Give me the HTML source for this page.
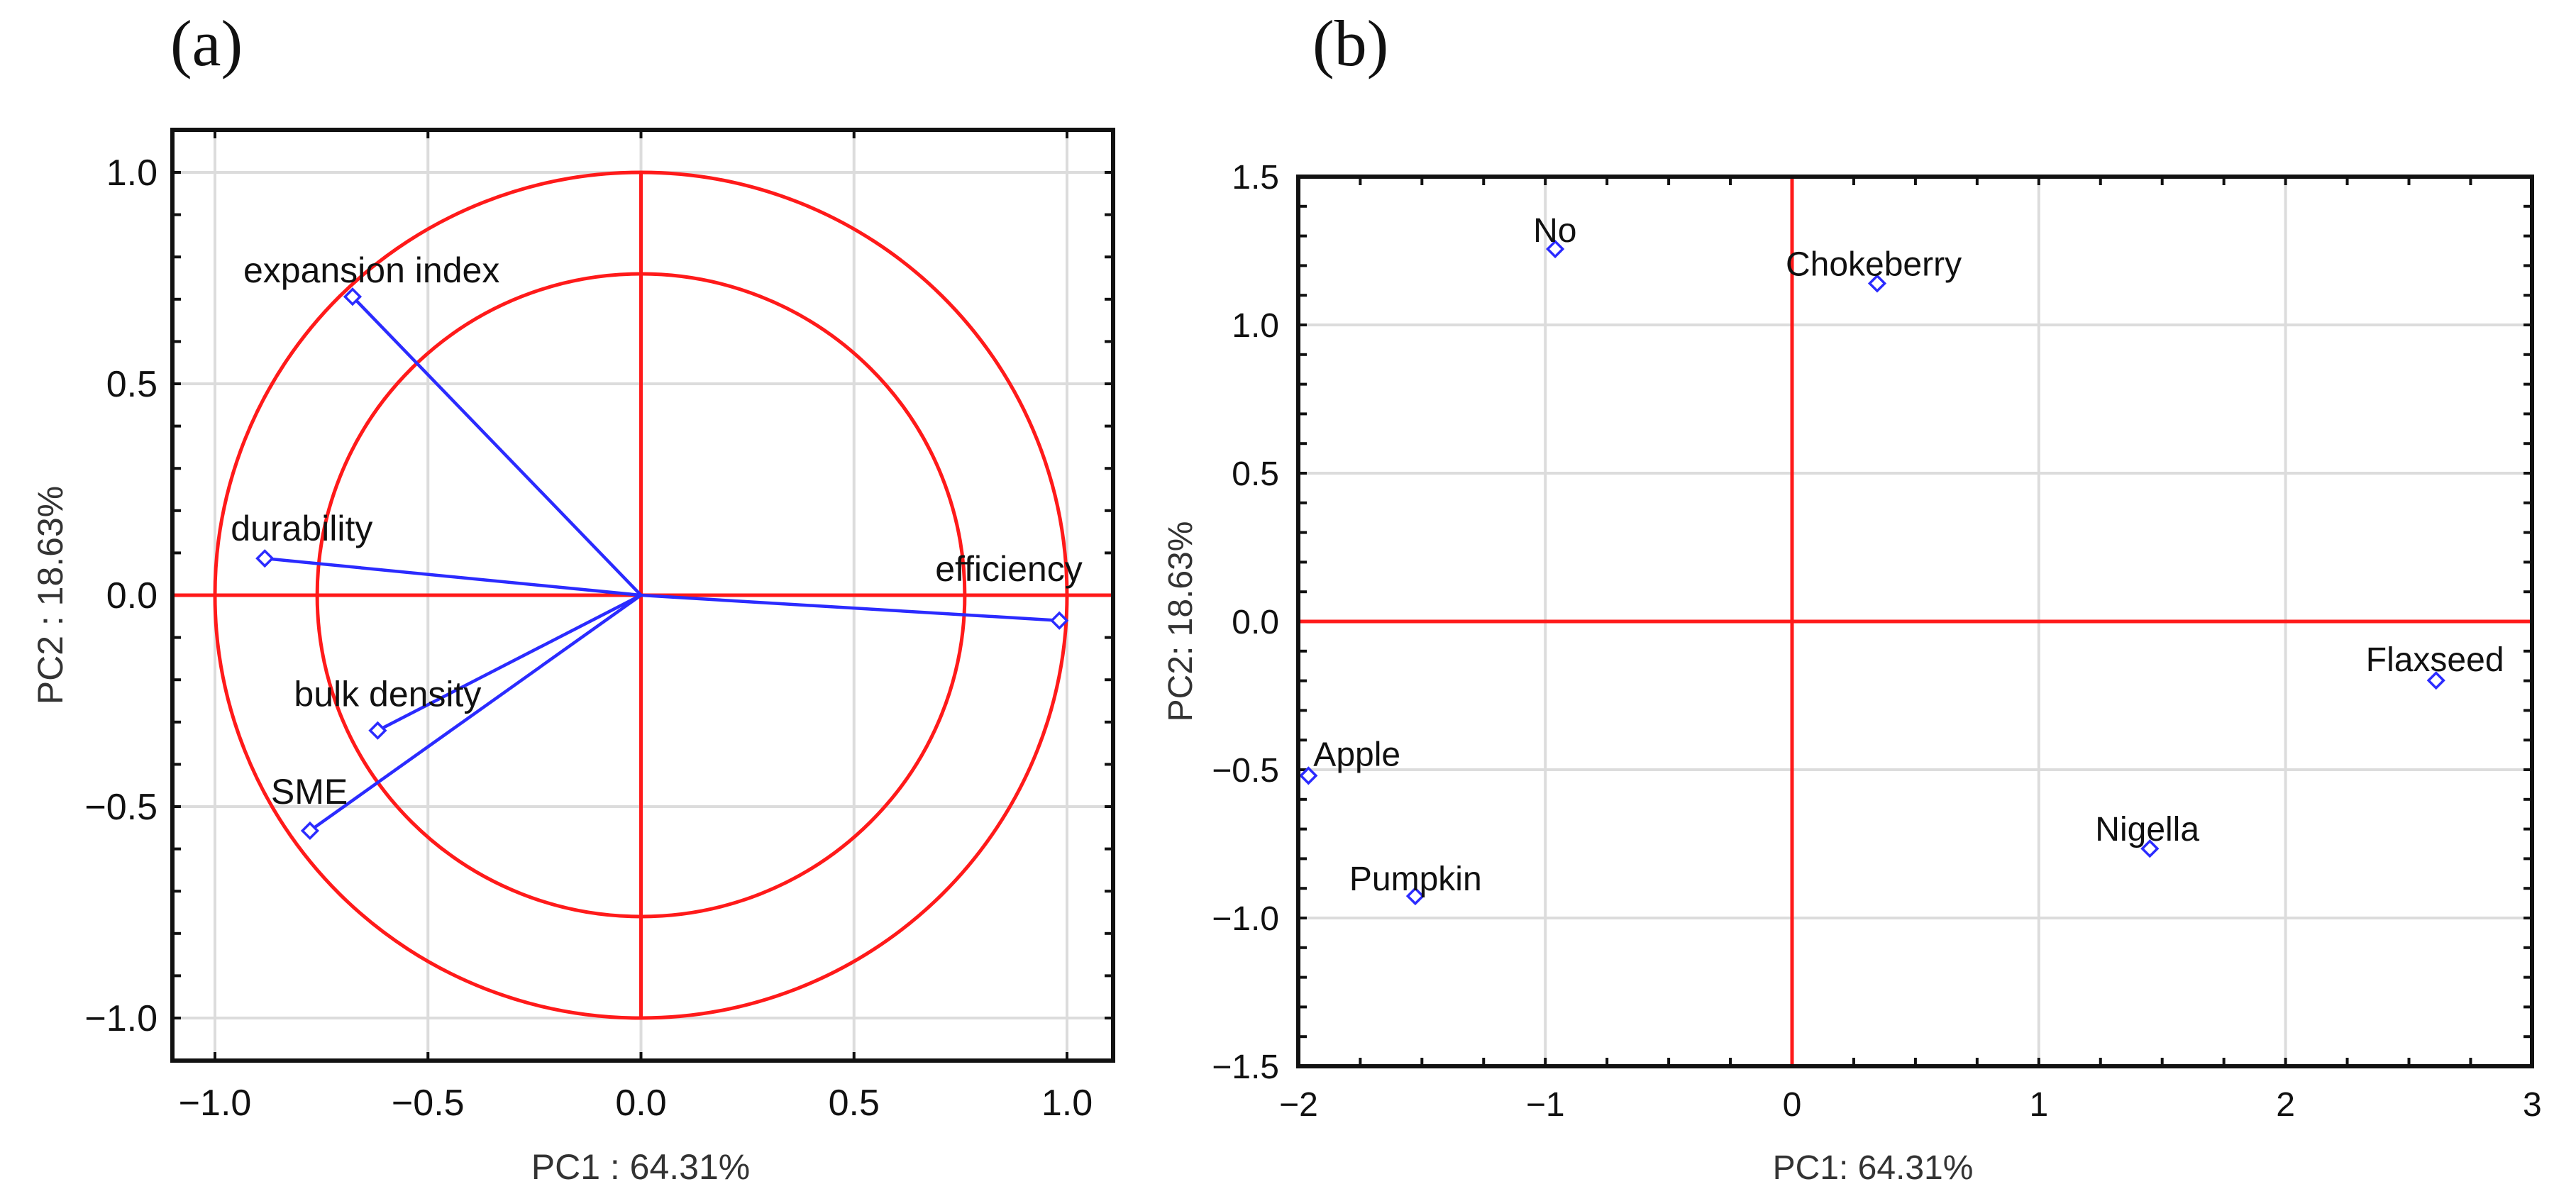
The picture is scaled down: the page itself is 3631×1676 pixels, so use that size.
<!DOCTYPE html>
<html><head><meta charset="utf-8"><style>
html,body{margin:0;padding:0;background:#fff;}
svg{display:block;}
text{font-family:"Liberation Sans",Arial,sans-serif;fill:#111;}
</style></head><body>
<svg id="fig" width="3631" height="1676" viewBox="0 0 3631 1676" xmlns="http://www.w3.org/2000/svg">
<text x="240" y="92" style="font-family:'Liberation Serif',serif;font-size:92px;fill:#111">(a)</text>
<text x="1850" y="92" style="font-family:'Liberation Serif',serif;font-size:92px;fill:#111">(b)</text>
<g id="pa"></g>
<g id="pb"></g>
</svg>
<script>
// Panel (a) loadings
const loadNames = ["expansion index","durability","efficiency","bulk density","SME"];
const loadPC1 = [-0.677, -0.883, 0.982, -0.618, -0.777];
const loadPC2 = [0.706, 0.087, -0.06, -0.32, -0.557];
const aTicks = [-1.0, -0.5, 0.0, 0.5, 1.0];
const aTickLabels = ["\u22121.0","\u22120.5","0.0","0.5","1.0"];
const circleRadii = [1.0, 0.76];
// Panel (b) scores
const scoreNames = ["No","Chokeberry","Flaxseed","Apple","Nigella","Pumpkin"];
const scorePC1 = [-0.96, 0.345, 2.61, -1.96, 1.45, -1.527];
const scorePC2 = [1.256, 1.14, -0.199, -0.52, -0.766, -0.926];
const bXTicks = [-2, -1, 0, 1, 2, 3];
const bXTickLabels = ["\u22122","\u22121","0","1","2","3"];
const bYTicks = [-1.5, -1.0, -0.5, 0.0, 0.5, 1.0, 1.5];
const bYTickLabels = ["\u22121.5","\u22121.0","\u22120.5","0.0","0.5","1.0","1.5"];

const NS="http://www.w3.org/2000/svg";
function mk(parent, tag, attrs, txt){
  const e=document.createElementNS(NS,tag);
  for(const k in attrs) e.setAttribute(k,attrs[k]);
  if(txt!==undefined) e.textContent=txt;
  parent.appendChild(e); return e;
}

// ---------- Panel A ----------
const A={L:243,R:1569,T:183,B:1495};
const ax=v=>903.5+v*600.5;
const ay=v=>839-v*596;
const ga=document.getElementById('pa');
aTicks.forEach((t,i)=>{
  let g=mk(ga,'line',{x1:ax(t),x2:ax(t),y1:A.T,y2:A.B,stroke:'#dcdcdc','stroke-width':4});
  
  
  g=mk(ga,'line',{x1:A.L,x2:A.R,y1:ay(t),y2:ay(t),stroke:'#dcdcdc','stroke-width':4});
  
  
  let tx=mk(ga,'text',{x:ax(t),y:1572,'text-anchor':'middle','font-size':52},aTickLabels[i]);
  
  
  tx=mk(ga,'text',{x:222,y:ay(t)+18,'text-anchor':'end','font-size':52},aTickLabels[i]);
  
  
});
for(let v=-1.1;v<=1.1001;v+=0.1){
  const y=ay(v); if(y<A.T+2||y>A.B-2) continue;
  let m=mk(ga,'line',{x1:A.L,x2:A.L+12,y1:y,y2:y,stroke:'#111','stroke-width':4});
  
  
  m=mk(ga,'line',{x1:A.R,x2:A.R-12,y1:y,y2:y,stroke:'#111','stroke-width':4});
  
  
}
aTicks.forEach(t=>{
  let m=mk(ga,'line',{x1:ax(t),x2:ax(t),y1:A.B,y2:A.B-12,stroke:'#111','stroke-width':4});
  
  
  m=mk(ga,'line',{x1:ax(t),x2:ax(t),y1:A.T,y2:A.T+12,stroke:'#111','stroke-width':4});
  
  
});
circleRadii.forEach(r=>{
  const c=mk(ga,'ellipse',{cx:ax(0),cy:ay(0),rx:r*600.5,ry:r*596,fill:'none',stroke:'#ff1a1a','stroke-width':5});
  
  
});
let l=mk(ga,'line',{x1:A.L,x2:A.R,y1:ay(0),y2:ay(0),stroke:'#ff1a1a','stroke-width':5});


l=mk(ga,'line',{x1:ax(0),x2:ax(0),y1:ay(1),y2:ay(-1),stroke:'#ff1a1a','stroke-width':5});


const aLabOff=[[-154,-20],[-48,-25],[-175,-56],[-118,-34],[-55,-38]];
loadNames.forEach((n,i)=>{
  const x=ax(loadPC1[i]), y=ay(loadPC2[i]);
  let v=mk(ga,'line',{x1:ax(0),y1:ay(0),x2:x,y2:y,stroke:'#2b2bff','stroke-width':4.5});
  
  
  let p=mk(ga,'rect',{x:x-7.5,y:y-7.5,width:15,height:15,fill:'#fff',stroke:'#2b2bff','stroke-width':3.5,transform:`rotate(45 ${x} ${y})`});
  
  
  let t=mk(ga,'text',{x:x+aLabOff[i][0],y:y+aLabOff[i][1],'font-size':50},n);
  
  
});
let fr=mk(ga,'rect',{x:A.L,y:A.T,width:A.R-A.L,height:A.B-A.T,fill:'none',stroke:'#111','stroke-width':6});


let ti=mk(ga,'text',{x:903,y:1662,'text-anchor':'middle','font-size':50,style:'fill:#333'},'PC1 : 64.31%');


ti=mk(ga,'text',{x:0,y:0,'text-anchor':'middle','font-size':50,style:'fill:#333',transform:'translate(88 839) rotate(-90)'},'PC2 : 18.63%');



// ---------- Panel B ----------
const B={L:1830,R:3569,T:249,B:1503};
const bx=v=>2526+v*347.8;
const by=v=>876-v*418;
const gb=document.getElementById('pb');
bXTicks.forEach((t,i)=>{
  if(t!==-2&&t!==3){
    let g=mk(gb,'line',{x1:bx(t),x2:bx(t),y1:B.T,y2:B.B,stroke:'#dcdcdc','stroke-width':4});
    
    
  }
  let tx=mk(gb,'text',{x:bx(t),y:1573,'text-anchor':'middle','font-size':48},bXTickLabels[i]);
  
  
});
bYTicks.forEach((t,i)=>{
  if(Math.abs(t)<1.5){
    let g=mk(gb,'line',{x1:B.L,x2:B.R,y1:by(t),y2:by(t),stroke:'#dcdcdc','stroke-width':4});
    
    
  }
  let tx=mk(gb,'text',{x:1803,y:by(t)+17,'text-anchor':'end','font-size':48},bYTickLabels[i]);
  
  
});
for(let v=-1.5;v<=1.5001;v+=0.1){
  const y=by(v);
  let m=mk(gb,'line',{x1:B.L,x2:B.L+12,y1:y,y2:y,stroke:'#111','stroke-width':4});
  
  
  m=mk(gb,'line',{x1:B.R,x2:B.R-12,y1:y,y2:y,stroke:'#111','stroke-width':4});
  
  
}
for(let v=-2;v<=3.0001;v+=0.25){
  const x=bx(v);
  let m=mk(gb,'line',{x1:x,x2:x,y1:B.B,y2:B.B-12,stroke:'#111','stroke-width':4});
  
  
  m=mk(gb,'line',{x1:x,x2:x,y1:B.T,y2:B.T+12,stroke:'#111','stroke-width':4});
  
  
}
l=mk(gb,'line',{x1:B.L,x2:B.R,y1:by(0),y2:by(0),stroke:'#ff1a1a','stroke-width':5});


l=mk(gb,'line',{x1:bx(0),x2:bx(0),y1:B.T,y2:B.B,stroke:'#ff1a1a','stroke-width':5});


const bLabOff=[[-31,-10],[-129,-11],[-99,-13],[7,-14],[-77,-11],[-93,-8]];
scoreNames.forEach((n,i)=>{
  const x=bx(scorePC1[i]), y=by(scorePC2[i]);
  let p=mk(gb,'rect',{x:x-7.5,y:y-7.5,width:15,height:15,fill:'#fff',stroke:'#2b2bff','stroke-width':3.5,transform:`rotate(45 ${x} ${y})`});
  
  
  let t=mk(gb,'text',{x:x+bLabOff[i][0],y:y+bLabOff[i][1],'font-size':48},n);
  
  
});
fr=mk(gb,'rect',{x:B.L,y:B.T,width:B.R-B.L,height:B.B-B.T,fill:'none',stroke:'#111','stroke-width':6});


ti=mk(gb,'text',{x:2640,y:1662,'text-anchor':'middle','font-size':48,style:'fill:#333'},'PC1: 64.31%');


ti=mk(gb,'text',{x:0,y:0,'text-anchor':'middle','font-size':48,style:'fill:#333',transform:'translate(1680 876) rotate(-90)'},'PC2: 18.63%');


</script>
</body></html>
